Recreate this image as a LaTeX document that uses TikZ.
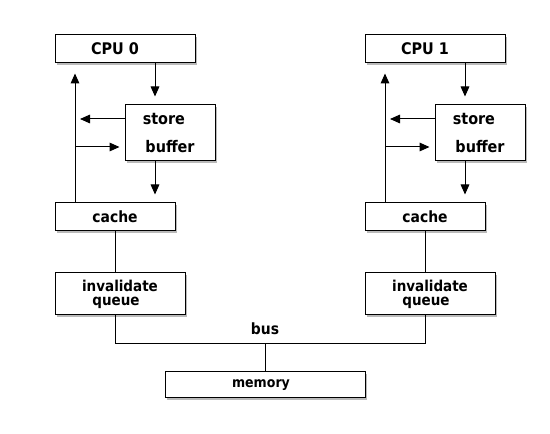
\documentclass[tikz,border=0pt]{standalone}
\usepackage{fontspec}
\setmainfont{DejaVu Sans Condensed}[BoldFont={DejaVu Sans Condensed Bold}]
\usetikzlibrary{arrows.meta,shadows}
\begin{document}
\begin{tikzpicture}[x=0.75pt,y=-0.75pt,
  box/.style={draw=black,line width=0.75pt,fill=white,inner sep=0pt,
    drop shadow={shadow xshift=1.5pt,shadow yshift=-1.5pt,fill=black!45,opacity=0.6}},
  lbl/.style={font=\fontsize{11.6}{11.6}\selectfont\bfseries},
  arr/.style={line width=0.75pt,-{Triangle[length=7.5pt,width=6.5pt]}},
  ln/.style={line width=0.75pt}]
\useasboundingbox (0,0) rectangle (550,434);
\foreach \i/\dx in {0/0,1/310}{
  \node[box,minimum width=105pt,minimum height=21pt,font=\fontsize{12}{12}\selectfont\bfseries] (cpu\i) at (125+\dx,49) {CPU \i\hspace*{15pt}};
  \node[box,minimum width=67.5pt,minimum height=42pt,align=left,
        font=\fontsize{12}{21}\selectfont\bfseries] (sb\i) at (170+\dx,133) {\hspace*{-2pt}store\\buffer};
  \node[box,minimum width=90pt,minimum height=21pt,lbl] (cache\i) at (115+\dx,217) {cache};
  \node[box,minimum width=97.5pt,minimum height=31.5pt,align=center,
        font=\fontsize{11.25}{10.5}\selectfont\bfseries] (iq\i) at (120+\dx,294) {invalidate\\queue\hspace*{6pt}};
  \coordinate (v\i) at (75+\dx,119);
  \coordinate (d\i) at (155+\dx,147);
  \draw[arr,shorten >=6pt] (cpu\i.south -| d\i) -- (sb\i.north -| d\i);
  \draw[arr,shorten >=7.5pt] (cache\i.north -| v\i) -- (cpu\i.south -| v\i);
  \draw[arr,shorten >=3.75pt] (sb\i.west |- v\i) -- (v\i);
  \draw[arr,shorten >=3.75pt] (v\i |- d\i) -- (sb\i.west |- d\i);
  \draw[arr,shorten >=6pt] (sb\i.south -| d\i) -- (cache\i.north -| d\i);
  \draw[ln] (cache\i.south) -- (cache\i.south |- iq\i.north);
}
\node[box,minimum width=150pt,minimum height=19.5pt,font=\fontsize{10.5}{10.5}\selectfont\bfseries] (mem) at (265,385) {\raisebox{-1pt}{memory}\hspace*{6pt}};
\coordinate (bus) at (265,343.5);
\node[lbl] (buslbl) at (265,329) {bus};
\draw[ln] (bus) -- (mem.north);
\draw[ln] (iq0.south -| cache0.south) |- (bus) -| (iq1.south -| cache1.south);
\end{tikzpicture}
\end{document}
